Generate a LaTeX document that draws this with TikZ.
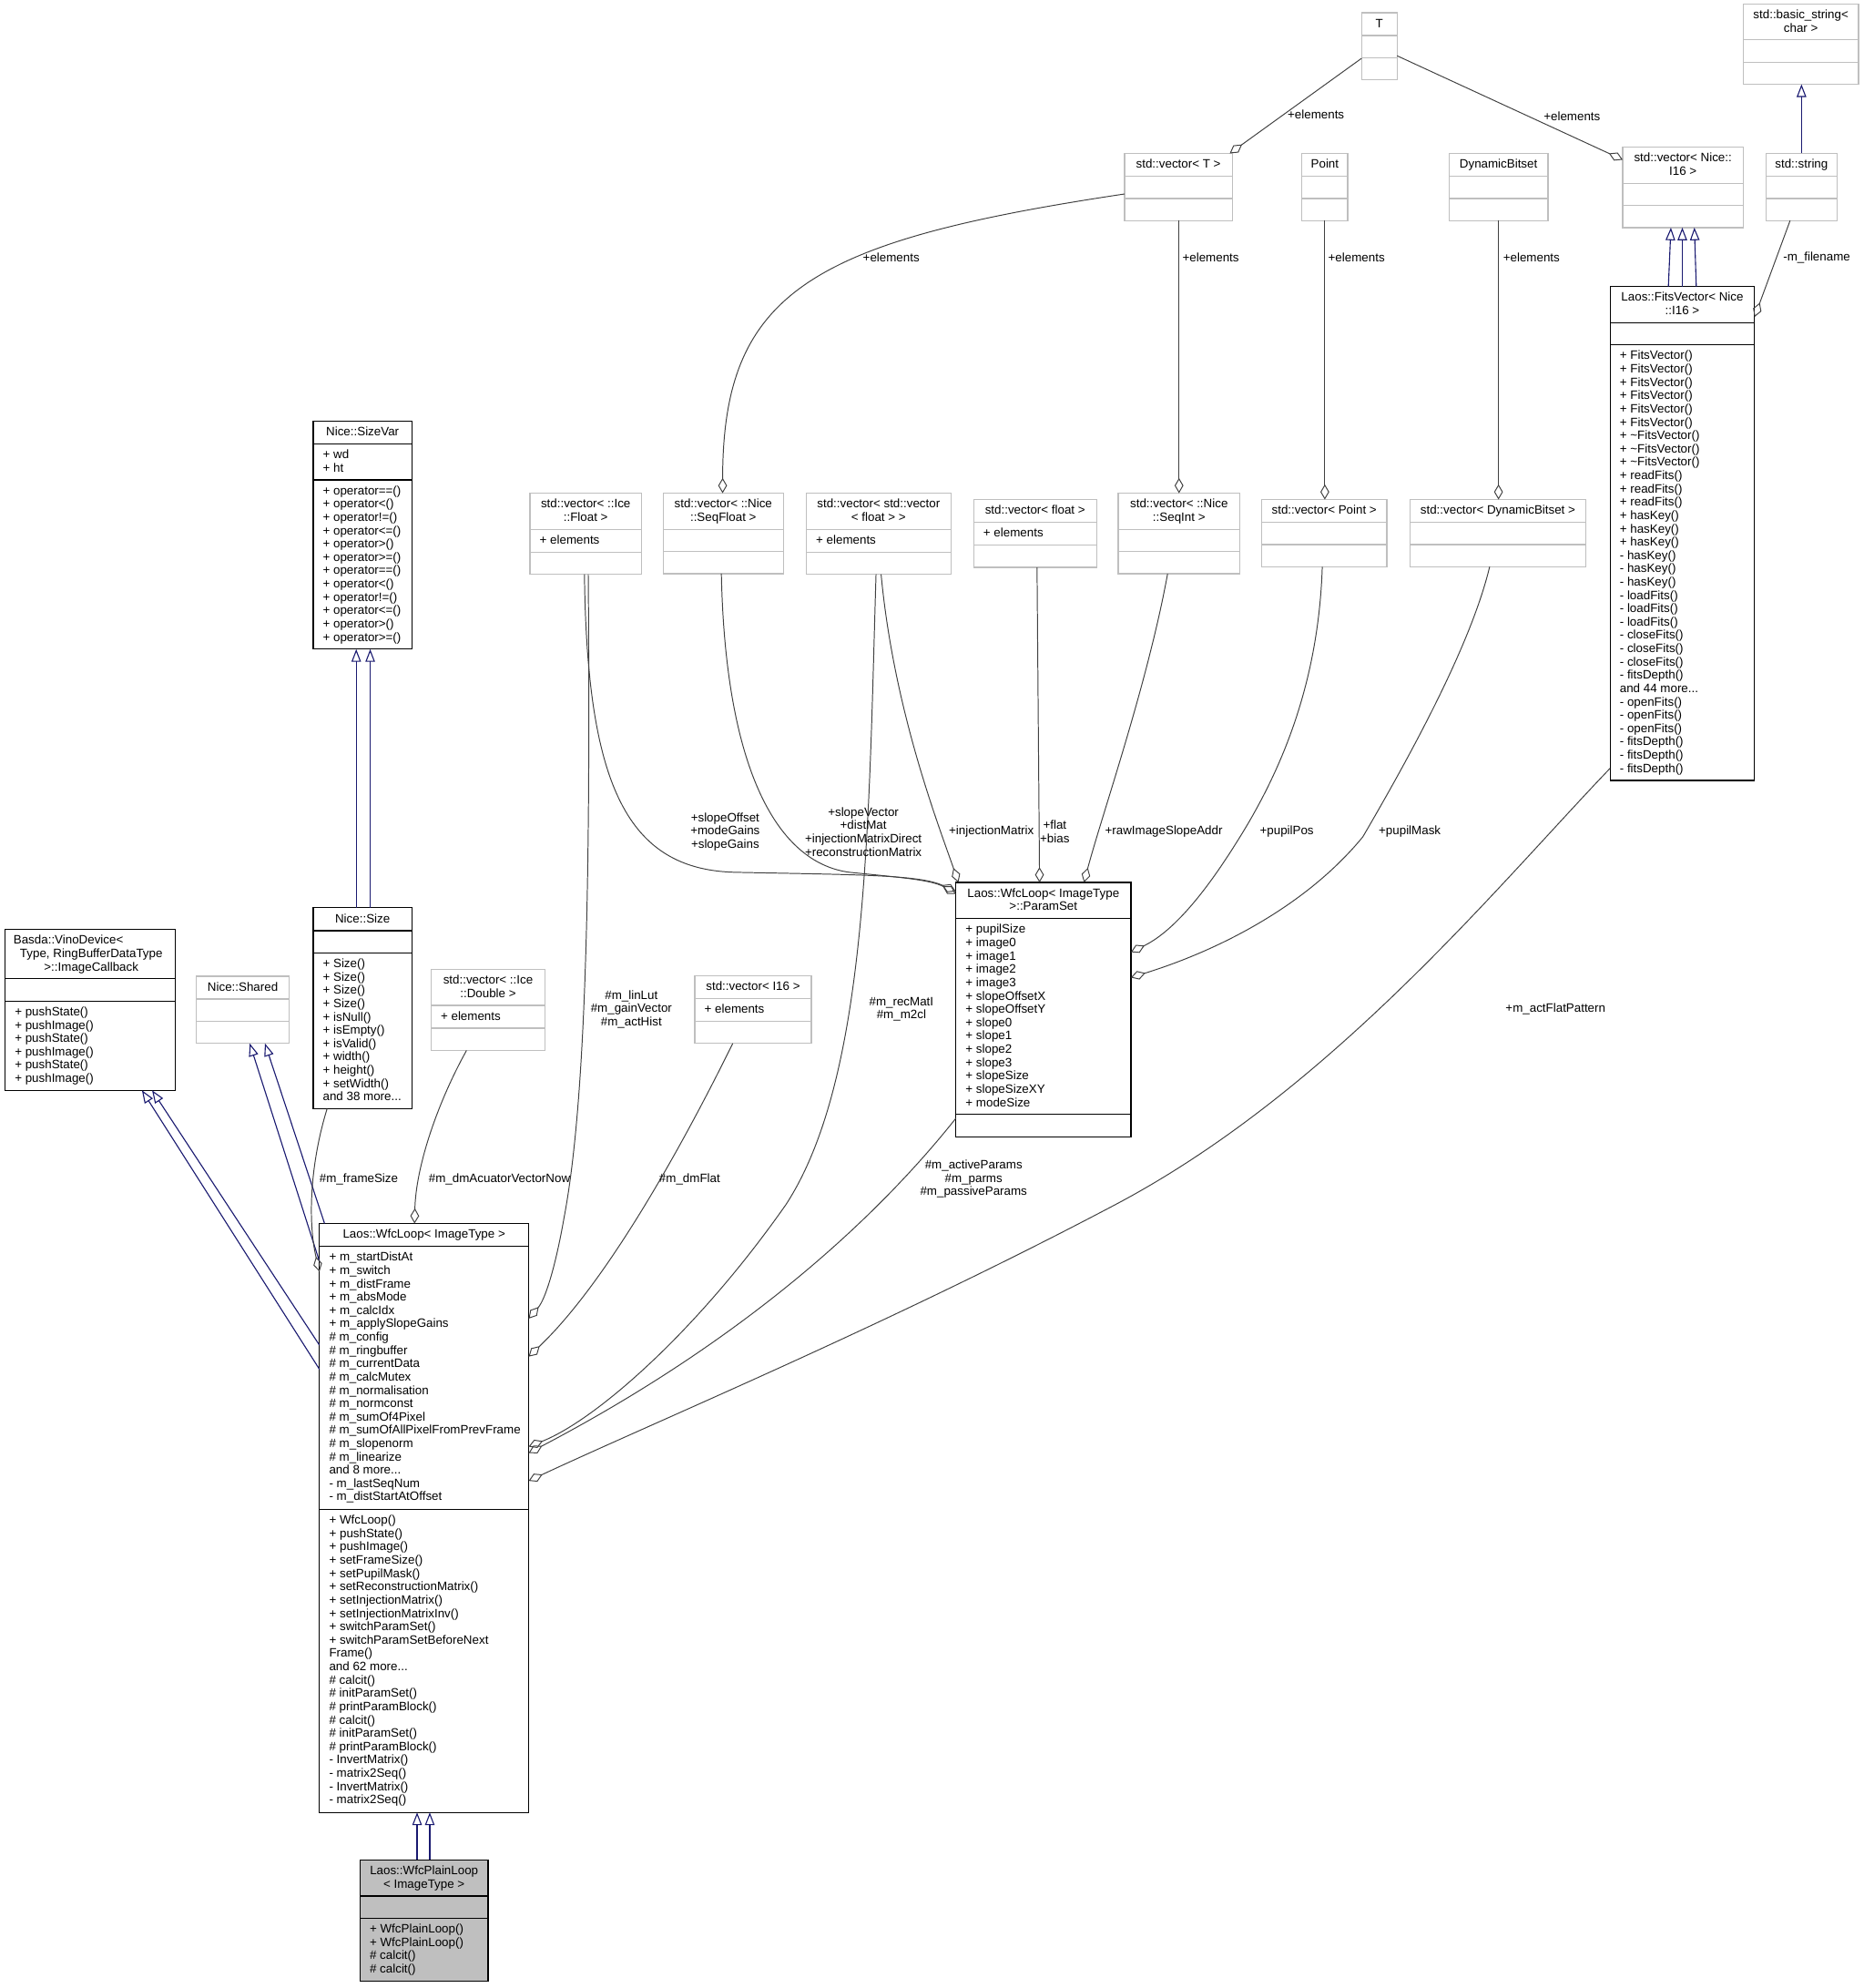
\documentclass[tikz,border=0pt]{standalone}
\usepackage{fontspec}
\setmainfont{Liberation Sans}
\usetikzlibrary{arrows.meta}
\definecolor{edgegray}{HTML}{404040}
\definecolor{boxgray}{HTML}{BFBFBF}
\definecolor{inhblue}{HTML}{191970}
\newcommand\Rstr{\rule{0pt}{9pt}}
\newcommand\ubox[6]{\node[#2, minimum width={#5-#3}, minimum height={#6-#4}] (#1) at (#3,#4) {};}
\newcommand\udiv[3]{\draw[#1] (#2.west |- 0,#3) -- (#2.east |- 0,#3);}
\tikzset{
 box/.style={draw, line width=0.9pt, fill=white, inner sep=0pt, outer sep=0pt, anchor=north west},
 bbox/.style={box, draw=black},
 gbox/.style={box, draw=boxgray},
 pbox/.style={box, draw=black, fill=boxgray},
 bdiv/.style={draw=black, line width=0.9pt},
 gdiv/.style={draw=boxgray, line width=0.9pt},
 ttl/.style={anchor=north, align=center, inner sep=0pt, font=\fontsize{9.6}{10.5}\selectfont},
 lst/.style={anchor=north west, align=left, inner sep=0pt, font=\fontsize{9.6}{10.5}\selectfont},
 lbl/.style={align=center, inner sep=0pt, font=\fontsize{9.6}{10.5}\selectfont},
 agg/.style={draw=edgegray, line width=0.7pt, -{Diamond[open, length=12pt, width=7pt, line width=0.7pt]}},
 inh/.style={draw=inhblue, line width=0.8pt, -{Triangle[open, length=10pt, width=7.5pt, line width=0.8pt]}},
}
\begin{document}
\begin{tikzpicture}[x=1pt, y=-1pt]
\fill[white] (0,0) rectangle (1470,1568);
\useasboundingbox (0,0) rectangle (1470,1568);

% ---------- boxes ----------
\ubox{T}{gbox}{1074}{10}{1102}{63}
\udiv{gdiv}{T}{28}\udiv{gdiv}{T}{45.5}
\node[ttl] (T-t) at (1088,12.5) {\Rstr T};

\ubox{bstr}{gbox}{1375}{3}{1466}{66.5}
\udiv{gdiv}{bstr}{31.5}\udiv{gdiv}{bstr}{49}
\node[ttl] (bstr-t) at (1420.5,5.5) {\Rstr std::basic\_string<\\char >};

\ubox{vecT}{gbox}{887}{121}{972}{174}
\udiv{gdiv}{vecT}{139}\udiv{gdiv}{vecT}{156.5}
\node[ttl] (vecT-t) at (929.5,123.5) {\Rstr std::vector< T >};

\ubox{pt}{gbox}{1027}{121}{1063}{174}
\udiv{gdiv}{pt}{139}\udiv{gdiv}{pt}{156.5}
\node[ttl] (pt-t) at (1045,123.5) {\Rstr Point};

\ubox{db}{gbox}{1143}{121}{1221}{174}
\udiv{gdiv}{db}{139}\udiv{gdiv}{db}{156.5}
\node[ttl] (db-t) at (1182,123.5) {\Rstr DynamicBitset};

\ubox{vni}{gbox}{1280}{116}{1375}{179.5}
\udiv{gdiv}{vni}{144.5}\udiv{gdiv}{vni}{162}
\node[ttl] (vni-t) at (1327.5,118.5) {\Rstr std::vector< Nice::\\I16 >};

\ubox{str}{gbox}{1393}{121}{1449}{174}
\udiv{gdiv}{str}{139}\udiv{gdiv}{str}{156.5}
\node[ttl] (str-t) at (1421,123.5) {\Rstr std::string};

\ubox{fits}{bbox}{1270}{226}{1384}{615.5}
\udiv{bdiv}{fits}{254.5}\udiv{bdiv}{fits}{272}
\node[ttl] (fits-t) at (1327,228.5) {\Rstr Laos::FitsVector< Nice\\::I16 >};
\node[lst] (fits-m) at (1277.5,274.5) {\Rstr + FitsVector()\\+ FitsVector()\\+ FitsVector()\\+ FitsVector()\\+ FitsVector()\\+ FitsVector()\\+ \textasciitilde FitsVector()\\+ \textasciitilde FitsVector()\\+ \textasciitilde FitsVector()\\+ readFits()\\+ readFits()\\+ readFits()\\+ hasKey()\\+ hasKey()\\+ hasKey()\\- hasKey()\\- hasKey()\\- hasKey()\\- loadFits()\\- loadFits()\\- loadFits()\\- closeFits()\\- closeFits()\\- closeFits()\\- fitsDepth()\\and 44 more...\\- openFits()\\- openFits()\\- openFits()\\- fitsDepth()\\- fitsDepth()\\- fitsDepth()};

\ubox{sv}{bbox}{247}{332}{325}{512}
\udiv{bdiv}{sv}{350}\udiv{bdiv}{sv}{378.5}
\node[ttl] (sv-t) at (286,334.5) {\Rstr Nice::SizeVar};
\node[lst] (sv-a) at (254.5,352.5) {\Rstr + wd\\+ ht};
\node[lst] (sv-m) at (254.5,381) {\Rstr + operator==()\\+ operator<()\\+ operator!=()\\+ operator<=()\\+ operator>()\\+ operator>=()\\+ operator==()\\+ operator<()\\+ operator!=()\\+ operator<=()\\+ operator>()\\+ operator>=()};

\ubox{sz}{bbox}{247}{716}{325}{874.5}
\udiv{bdiv}{sz}{734}\udiv{bdiv}{sz}{751.5}
\node[ttl] (sz-t) at (286,718.5) {\Rstr Nice::Size};
\node[lst] (sz-m) at (254.5,754) {\Rstr + Size()\\+ Size()\\+ Size()\\+ Size()\\+ isNull()\\+ isEmpty()\\+ isValid()\\+ width()\\+ height()\\+ setWidth()\\and 38 more...};

\ubox{basda}{bbox}{4}{733}{138}{860}
\udiv{bdiv}{basda}{772}\udiv{bdiv}{basda}{789.5}
\node[lst] (basda-t1) at (10.5,735.5) {\Rstr Basda::VinoDevice<};
\node[ttl] (basda-t2) at (72,746) {\Rstr Type, RingBufferDataType\\>::ImageCallback};
\node[lst] (basda-m) at (11.5,792) {\Rstr + pushState()\\+ pushImage()\\+ pushState()\\+ pushImage()\\+ pushState()\\+ pushImage()};

\ubox{sh}{gbox}{155}{770}{228}{823}
\udiv{gdiv}{sh}{788}\udiv{gdiv}{sh}{805.5}
\node[ttl] (sh-t) at (191.5,772.5) {\Rstr Nice::Shared};

\ubox{vd}{gbox}{340}{764.5}{430}{828.5}
\udiv{gdiv}{vd}{793}\udiv{gdiv}{vd}{811}
\node[ttl] (vd-t) at (385,767) {\Rstr std::vector< ::Ice\\::Double >};
\node[lst] (vd-a) at (347.5,795.5) {\Rstr + elements};

\ubox{vi}{gbox}{548}{769.5}{640}{823}
\udiv{gdiv}{vi}{787.5}\udiv{gdiv}{vi}{805.5}
\node[ttl] (vi-t) at (594,772) {\Rstr std::vector< I16 >};
\node[lst] (vi-a) at (555.5,790) {\Rstr + elements};

\ubox{vfi}{gbox}{418}{389}{506}{453}
\udiv{gdiv}{vfi}{417.5}\udiv{gdiv}{vfi}{435.5}
\node[ttl] (vfi-t) at (462,391.5) {\Rstr std::vector< ::Ice\\::Float >};
\node[lst] (vfi-a) at (425.5,420) {\Rstr + elements};

\ubox{vsf}{gbox}{523}{389}{618}{452.5}
\udiv{gdiv}{vsf}{417.5}\udiv{gdiv}{vsf}{435}
\node[ttl] (vsf-t) at (570.5,391.5) {\Rstr std::vector< ::Nice\\::SeqFloat >};

\ubox{vvv}{gbox}{636}{389}{750}{453}
\udiv{gdiv}{vvv}{417.5}\udiv{gdiv}{vvv}{435.5}
\node[ttl] (vvv-t) at (693,391.5) {\Rstr std::vector< std::vector\\< float > >};
\node[lst] (vvv-a) at (643.5,420) {\Rstr + elements};

\ubox{vf}{gbox}{768}{394}{865}{447.5}
\udiv{gdiv}{vf}{412}\udiv{gdiv}{vf}{430}
\node[ttl] (vf-t) at (816.5,396.5) {\Rstr std::vector< float >};
\node[lst] (vf-a) at (775.5,414.5) {\Rstr + elements};

\ubox{vsi}{gbox}{882}{389}{978}{452.5}
\udiv{gdiv}{vsi}{417.5}\udiv{gdiv}{vsi}{435}
\node[ttl] (vsi-t) at (930,391.5) {\Rstr std::vector< ::Nice\\::SeqInt >};

\ubox{vpt}{gbox}{995}{394}{1094}{447}
\udiv{gdiv}{vpt}{412}\udiv{gdiv}{vpt}{429.5}
\node[ttl] (vpt-t) at (1044.5,396.5) {\Rstr std::vector< Point >};

\ubox{vdb}{gbox}{1112}{394}{1251}{447}
\udiv{gdiv}{vdb}{412}\udiv{gdiv}{vdb}{429.5}
\node[ttl] (vdb-t) at (1181.5,396.5) {\Rstr std::vector< DynamicBitset >};

\ubox{ps}{bbox}{754}{696}{892}{896.5}
\udiv{bdiv}{ps}{724.5}\udiv{bdiv}{ps}{879}
\node[ttl] (ps-t) at (823,698.5) {\Rstr Laos::WfcLoop< ImageType\\>::ParamSet};
\node[lst] (ps-a) at (761.5,727) {\Rstr + pupilSize\\+ image0\\+ image1\\+ image2\\+ image3\\+ slopeOffsetX\\+ slopeOffsetY\\+ slope0\\+ slope1\\+ slope2\\+ slope3\\+ slopeSize\\+ slopeSizeXY\\+ modeSize};

\ubox{wfc}{bbox}{252}{965}{417}{1429.5}
\udiv{bdiv}{wfc}{983}\udiv{bdiv}{wfc}{1190.5}
\node[ttl] (wfc-t) at (334.5,967.5) {\Rstr Laos::WfcLoop< ImageType >};
\node[lst] (wfc-a) at (259.5,985.5) {\Rstr + m\_startDistAt\\+ m\_switch\\+ m\_distFrame\\+ m\_absMode\\+ m\_calcIdx\\+ m\_applySlopeGains\\\# m\_config\\\# m\_ringbuffer\\\# m\_currentData\\\# m\_calcMutex\\\# m\_normalisation\\\# m\_normconst\\\# m\_sumOf4Pixel\\\# m\_sumOfAllPixelFromPrevFrame\\\# m\_slopenorm\\\# m\_linearize\\and 8 more...\\- m\_lastSeqNum\\- m\_distStartAtOffset};
\node[lst] (wfc-m) at (259.5,1193) {\Rstr + WfcLoop()\\+ pushState()\\+ pushImage()\\+ setFrameSize()\\+ setPupilMask()\\+ setReconstructionMatrix()\\+ setInjectionMatrix()\\+ setInjectionMatrixInv()\\+ switchParamSet()\\+ switchParamSetBeforeNext\\Frame()\\and 62 more...\\\# calcit()\\\# initParamSet()\\\# printParamBlock()\\\# calcit()\\\# initParamSet()\\\# printParamBlock()\\- InvertMatrix()\\- matrix2Seq()\\- InvertMatrix()\\- matrix2Seq()};

\ubox{wpl}{pbox}{284}{1467}{385}{1562.5}
\udiv{bdiv}{wpl}{1495.5}\udiv{bdiv}{wpl}{1513}
\node[ttl] (wpl-t) at (334.5,1469.5) {\Rstr Laos::WfcPlainLoop\\< ImageType >};
\node[lst] (wpl-m) at (291.5,1515.5) {\Rstr + WfcPlainLoop()\\+ WfcPlainLoop()\\\# calcit()\\\# calcit()};

% ---------- inheritance ----------
\draw[inh] (str.north -| 1421,0) -- (bstr.south -| 1421,0);
\draw[inh] (fits.north -| 1316,0) -- (vni.south -| 1318,0);
\draw[inh] (fits.north -| 1327,0) -- (vni.south -| 1327,0);
\draw[inh] (fits.north -| 1338,0) -- (vni.south -| 1336.5,0);
\draw[inh] (sz.north -| 281,0) -- (sv.south -| 281,0);
\draw[inh] (sz.north -| 292,0) -- (sv.south -| 292,0);
\draw[inh] (wfc.west |- 0,995) -- (sh.south -| 197,0);
\draw[inh] (wfc.north -| 256,0) -- (sh.south -| 209,0);
\draw[inh] (wfc.west |- 0,1080) -- (basda.south -| 112,0);
\draw[inh] (wfc.west |- 0,1061) -- (basda.south -| 120,0);
\draw[inh] (wpl.north -| 329,0) -- (wfc.south -| 329,0);
\draw[inh] (wpl.north -| 339,0) -- (wfc.south -| 339,0);

% ---------- aggregation ----------
\draw[agg] (T.west |- 0,46) -- (vecT.north -| 970,0);
\draw[agg] (T.east |- 0,44) -- (vni.west |- 0,126);
\draw[agg] (str.south -| 1412,0) -- (fits.east |- 0,250);
\draw[agg] (vecT.west |- 0,153) .. controls (640,190) and (570,230) .. (vsf.north -| 570,0);
\draw[agg] (vecT.south -| 930,0) -- (vsi.north -| 930,0);
\draw[agg] (pt.south) -- (vpt.north -| 1045,0);
\draw[agg] (db.south) -- (vdb.north -| 1182,0);
\draw[agg] (vfi.south -| 461,0) .. controls (463,620) and (495,686) .. (580,688) .. controls (680,690) and (725,690) .. (ps.west |- 0,703);
\draw[agg] (vsf.south -| 569,0) .. controls (572,600) and (610,680) .. (670,688) .. controls (710,692) and (735,694) .. (ps.west |- 0,705);
\draw[agg] (vvv.south -| 695,0) .. controls (705,560) and (740,650) .. (ps.north -| 756,0);
\draw[agg] (vf.south -| 818,0) -- (ps.north -| 820,0);
\draw[agg] (vsi.south -| 921,0) .. controls (905,540) and (870,640) .. (ps.north -| 855,0);
\draw[agg] (vpt.south -| 1043,0) .. controls (1040,540) and (1010,610) .. (975,665) .. controls (950,705) and (925,735) .. (ps.east |- 0,751);
\draw[agg] (vdb.south -| 1175,0) .. controls (1160,510) and (1110,600) .. (1075,660) .. controls (1030,715) and (960,750) .. (ps.east |- 0,771);
\draw[agg] (vfi.south -| 464,0) .. controls (466,700) and (462,870) .. (445,960) .. controls (438,1000) and (430,1025) .. (wfc.east |- 0,1040);
\draw[agg] (vvv.south -| 691,0) .. controls (685,650) and (685,850) .. (620,950) .. controls (550,1050) and (470,1120) .. (wfc.east |- 0,1141);
\draw[agg] (vi.south -| 578,0) .. controls (540,900) and (480,1010) .. (wfc.east |- 0,1070);
\draw[agg] (ps.west |- 0,882) .. controls (700,950) and (600,1050) .. (wfc.east |- 0,1146);
\draw[agg] (fits.west |- 0,606) .. controls (1180,700) and (1050,860) .. (880,950) .. controls (700,1045) and (520,1120) .. (wfc.east |- 0,1168);
\draw[agg] (vd.south -| 368,0) .. controls (345,870) and (328,920) .. (wfc.north -| 327,0);
\draw[agg] (sz.south -| 258,0) .. controls (244,920) and (243,965) .. (wfc.west |- 0,1003);

% ---------- labels ----------
\node[lbl] (l1) at (1038,90) {+elements};
\node[lbl] (l2) at (1240,92) {+elements};
\node[lbl] (l3) at (1433,203) {-m\_filename};
\node[lbl] (l4) at (703,203) {+elements};
\node[lbl] (l5) at (955,203) {+elements};
\node[lbl] (l6) at (1070,203) {+elements};
\node[lbl] (l7) at (1208,203) {+elements};
\node[lbl] (l8) at (572,656) {+slopeOffset\\+modeGains\\+slopeGains};
\node[lbl] (l9) at (681,656) {+slopeVector\\+distMat\\+injectionMatrixDirect\\+reconstructionMatrix};
\node[lbl] (l10) at (782,656) {+injectionMatrix};
\node[lbl] (l11) at (832,656) {+flat\\+bias};
\node[lbl] (l12) at (918,656) {+rawImageSlopeAddr};
\node[lbl] (l13) at (1015,656) {+pupilPos};
\node[lbl] (l14) at (1112,656) {+pupilMask};
\node[lbl] (l15) at (498,796) {\#m\_linLut\\\#m\_gainVector\\\#m\_actHist};
\node[lbl] (l16) at (711,796) {\#m\_recMatI\\\#m\_m2cl};
\node[lbl] (l17) at (1227,796) {+m\_actFlatPattern};
\node[lbl] (l18) at (283,930) {\#m\_frameSize};
\node[lbl] (l19) at (394,930) {\#m\_dmAcuatorVectorNow};
\node[lbl] (l20) at (544,930) {\#m\_dmFlat};
\node[lbl] (l21) at (768,930) {\#m\_activeParams\\\#m\_parms\\\#m\_passiveParams};
\end{tikzpicture}
\end{document}
